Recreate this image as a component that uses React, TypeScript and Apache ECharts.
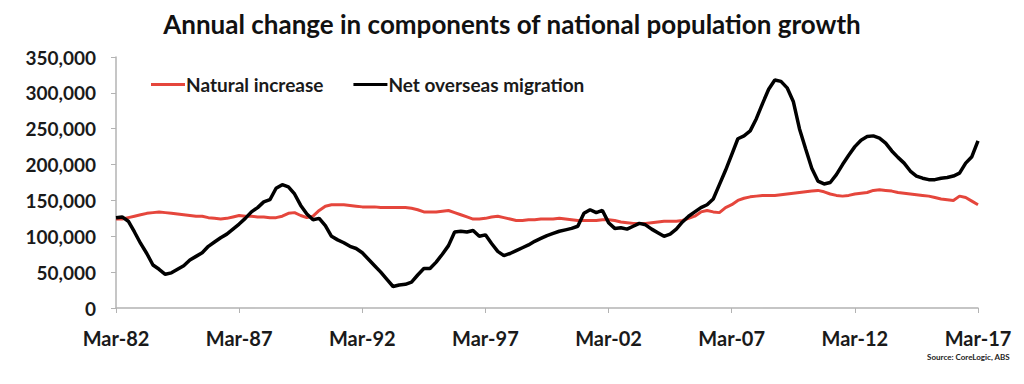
import React, { useEffect, useRef } from "react";
import * as echarts from "echarts";

const years: number[] = [];
for (let y = 1982; y <= 2017; y++) years.push(y);
const months = ["Mar", "Jun", "Sep", "Dec"];
const categories: string[] = [];
years.forEach((y) => {
  months.forEach((m) => {
    if (y === 2017 && m !== "Mar") return;
    categories.push(`${m}-${String(y % 100).padStart(2, "0")}`);
  });
});

// thousands
const naturalIncrease = [
  124, 124, 126, 128, 130, 132, 133, 134, 133, 132, 131, 130, 129, 128, 128, 126, 125, 124, 125, 127,
  129, 128, 128, 127, 127, 126, 126, 128, 132, 133, 129, 126, 128, 136, 142, 144, 144, 144, 143, 142,
  141, 141, 141, 140, 140, 140, 140, 140, 139, 137, 134, 134, 134, 135, 136, 133, 130, 127, 124, 124,
  125, 127, 128, 126, 124, 122, 122, 123, 123, 124, 124, 124, 125, 124, 123, 122, 122, 122, 122, 123,
  123, 122, 120, 119, 118, 118, 118, 119, 120, 121, 121, 121, 122, 125, 128, 134, 136, 134, 133, 140,
  144, 150, 153, 155, 156, 157, 157, 157, 158, 159, 160, 161, 162, 163, 164, 162, 159, 157, 156, 157,
  159, 160, 161, 164, 165, 164, 163, 161, 160, 159, 158, 157, 156, 154, 152, 151, 150, 156, 154, 149,
  144,
];

const netOverseasMigration = [
  126, 127, 121, 106, 90, 76, 60, 54, 47, 49, 54, 59, 67, 72, 77, 86, 92, 98, 103, 110,
  117, 125, 134, 140, 148, 151, 167, 172, 169, 159, 143, 131, 123, 125, 115, 100, 95, 91, 86, 83,
  77, 68, 59, 50, 40, 30, 32, 33, 36, 46, 55, 55, 64, 75, 87, 106, 107, 106, 108, 100,
  102, 90, 79, 73, 76, 80, 84, 88, 93, 97, 101, 104, 107, 109, 111, 114, 132, 137, 133, 136,
  119, 111, 112, 110, 114, 118, 116, 110, 105, 100, 103, 110, 120, 128, 134, 140, 144, 152, 172, 192,
  214, 236, 240, 247, 264, 285, 305, 318, 316, 307, 288, 250, 222, 195, 177, 173, 175, 186, 200, 213,
  225, 234, 239, 240, 237, 230, 219, 210, 202, 191, 184, 181, 179, 179, 181, 182, 184, 188, 202, 211,
  233,
];

const seriesNames = ["Natural increase", "Net overseas migration"];
const yTicks = { min: 0, max: 350000, interval: 50000 };
const titleText = "Annual change in components of national population growth";
const sourceText = "Source: CoreLogic, ABS";

export default function App() {
  const ref = useRef<HTMLDivElement>(null);
  useEffect(() => {
    if (!ref.current) return;
    const chart = echarts.init(ref.current, undefined, { renderer: "svg" });
    const font = "Lato, 'Open Sans', sans-serif";
    chart.setOption({
      animation: false,
      backgroundColor: "#ffffff",
      title: {
        text: titleText,
        left: "center",
        top: 6,
        textStyle: { fontFamily: font, fontSize: 26, fontWeight: "bold", color: "#111" },
      },
      legend: {
        left: 146,
        top: 70,
        itemWidth: 34,
        itemHeight: 3,
        itemGap: 30,
        icon: "rect",
        textStyle: { fontFamily: font, fontSize: 19, fontWeight: "bold", color: "#1a1a1a", padding: [0, 0, 0, -4] },
        data: seriesNames,
      },
      grid: { left: 116, right: 46, top: 57, bottom: 76, containLabel: false },
      xAxis: {
        type: "category",
        data: categories,
        boundaryGap: false,
        axisLine: { lineStyle: { color: "#b3b3b3", width: 1.5 } },
        axisTick: { interval: 19, length: 5, lineStyle: { color: "#b3b3b3" } },
        axisLabel: {
          interval: 19,
          margin: 20,
          fontFamily: font,
          fontSize: 20,
          fontWeight: "bold",
          color: "#1a1a1a",
        },
        splitLine: { show: false },
      },
      yAxis: {
        type: "value",
        min: yTicks.min,
        max: yTicks.max,
        interval: yTicks.interval,
        axisLine: { show: true, lineStyle: { color: "#b3b3b3", width: 1.5 } },
        axisTick: { show: true, length: 5, lineStyle: { color: "#b3b3b3" } },
        splitLine: { show: false },
        axisLabel: {
          margin: 20,
          fontFamily: font,
          fontSize: 19,
          fontWeight: "bold",
          color: "#1a1a1a",
          formatter: (v: number) => v.toLocaleString("en-US"),
        },
      },
      series: [
        {
          name: seriesNames[0],
          type: "line",
          data: naturalIncrease.map((v) => v * 1000),
          showSymbol: false,
          symbol: "none",
          lineStyle: { color: "#e5463c", width: 3 },
          itemStyle: { color: "#e5463c" },
          z: 2,
        },
        {
          name: seriesNames[1],
          type: "line",
          data: netOverseasMigration.map((v) => v * 1000),
          showSymbol: false,
          symbol: "none",
          lineStyle: { color: "#000000", width: 3.5 },
          itemStyle: { color: "#000000" },
          z: 3,
        },
      ],
      graphic: [
        {
          type: "text",
          right: 14,
          top: 353,
          style: {
            text: sourceText,
            fontFamily: font,
            fontSize: 8,
            fontWeight: "bold",
            fill: "#222",
          },
        },
      ],
    });
    return () => chart.dispose();
  }, []);
  return (
    <div
      ref={ref}
      style={{ position: "fixed", left: 0, top: 0, width: 1024, height: 384 }}
    />
  );
}
